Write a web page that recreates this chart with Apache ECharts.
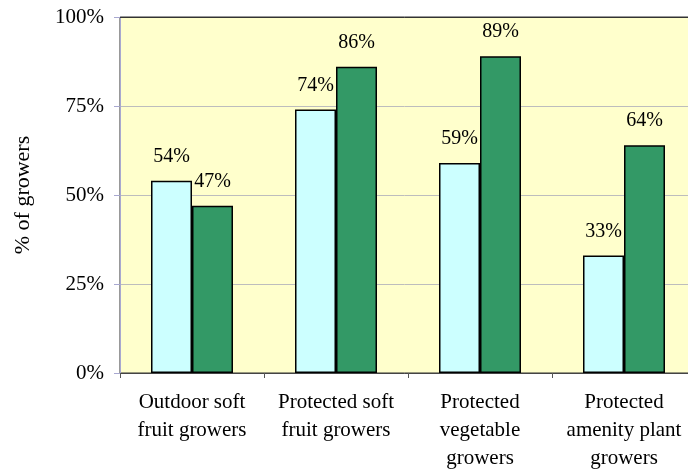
<!DOCTYPE html>
<html>
<head>
<meta charset="utf-8">
<script src="https://cdn.jsdelivr.net/npm/echarts@6/dist/echarts.min.js"></script>
<style>
html, body { margin: 0; padding: 0; background: #fff; }
#main { width: 688px; height: 474px; }
</style>
</head>
<body>
<div id="main"></div>
<script>
// categories and values
const categories = [
    'Outdoor soft\nfruit growers',
    'Protected soft\nfruit growers',
    'Protected\nvegetable\ngrowers',
    'Protected\namenity plant\ngrowers'
];
const lightSeries = [54, 74, 59, 33];
const darkSeries = [47, 86, 89, 64];
const yTicks = [0, 25, 50, 75, 100];

const serif = 'Liberation Serif';

let chart = echarts.init(document.getElementById('main'));
chart.setOption({
    animation: false,
    textStyle: { fontFamily: serif },
    grid: {
        left: 120,
        top: 17,
        right: -8,
        bottom: 101,
        outerBoundsMode: 'none',
        containLabel: false,
        show: true,
        backgroundColor: '#FFFFCC',
        borderColor: '#333',
        borderWidth: 1
    },
    xAxis: [{
        type: 'category',
        data: categories,
        axisLine: { lineStyle: { color: '#444', width: 1 } },
        axisTick: { show: true, length: 5, lineStyle: { color: '#555' } },
        axisLabel: {
            color: '#000',
            fontFamily: serif,
            fontSize: 21,
            lineHeight: 28,
            margin: 15,
            interval: 0
        }
    }, {
        // top border of the plot
        type: 'category',
        data: categories,
        position: 'top',
        axisLine: { lineStyle: { color: '#333', width: 1 } },
        axisTick: { show: false },
        axisLabel: { show: false }
    }],
    yAxis: {
        type: 'value',
        min: yTicks[0],
        max: yTicks[yTicks.length - 1],
        interval: 25,
        name: '% of growers',
        nameLocation: 'middle',
        nameRotate: 90,
        nameGap: 86,
        nameTextStyle: { color: '#000', fontFamily: serif, fontSize: 22 },
        axisLine: { show: true, lineStyle: { color: '#A8A8D0', width: 1 } },
        axisTick: { show: true, length: 6, lineStyle: { color: '#A8A8D0' } },
        axisLabel: {
            color: '#000',
            fontFamily: serif,
            fontSize: 21,
            margin: 16,
            formatter: '{value}%'
        },
        splitLine: { show: true, lineStyle: { color: '#BDBDBD', width: 1 } }
    },
    series: [{
        type: 'bar',
        data: lightSeries,
        barWidth: 41,
        barGap: '0%',
        itemStyle: { color: '#CCFFFF', borderColor: '#000', borderWidth: 1.5 },
        label: {
            show: true,
            position: 'top',
            distance: 14,
            formatter: '{c}%',
            color: '#000',
            fontFamily: serif,
            fontSize: 20
        }
    }, {
        type: 'bar',
        data: darkSeries,
        barWidth: 41,
        itemStyle: { color: '#339966', borderColor: '#000', borderWidth: 1.5 },
        label: {
            show: true,
            position: 'top',
            distance: 14,
            formatter: '{c}%',
            color: '#000',
            fontFamily: serif,
            fontSize: 20
        }
    }]
});
</script>
</body>
</html>
